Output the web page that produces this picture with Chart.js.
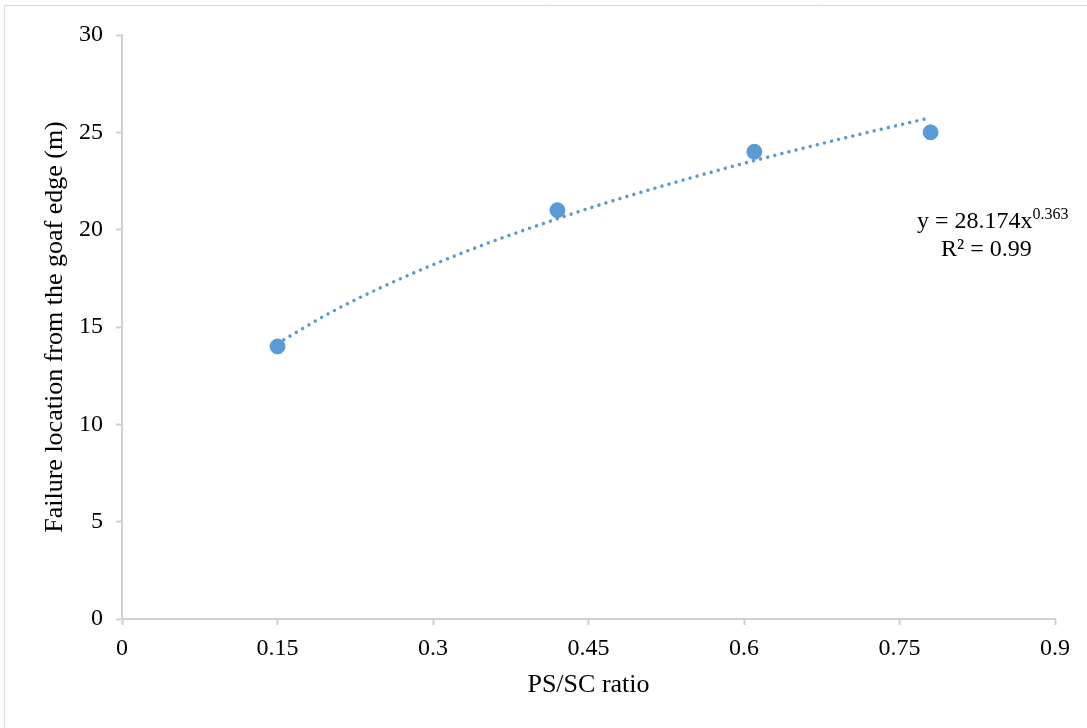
<!DOCTYPE html>
<html>
<head>
<meta charset="utf-8">
<script src="https://cdn.jsdelivr.net/npm/chart.js@4"></script>
<style>
  html, body { margin: 0; padding: 0; background: #fff; }
  #wrap { width: 1087px; height: 728px; position: relative; }
</style>
</head>
<body>
<div id="wrap"><canvas id="grafico"></canvas></div>
<script>
// measured data
const ratioX = [0.15, 0.42, 0.61, 0.78];
const failureY = [14, 21, 24, 25];

// dotted power trendline
const trendX = [0.15, 0.2, 0.25, 0.3, 0.35, 0.4, 0.45, 0.5, 0.55, 0.6, 0.65, 0.7, 0.75, 0.78];
const trendY = [14.15, 15.71, 17.03, 18.2, 19.25, 20.2, 21.09, 21.91, 22.68, 23.41, 24.09, 24.75, 25.38, 25.75];

const xTicks = [0, 0.15, 0.3, 0.45, 0.6, 0.75, 0.9];
const yTicks = [0, 5, 10, 15, 20, 25, 30];

const azul = '#5b9bd5';
const eixo = '#d0d0d0';
const fonte = '"Liberation Serif", "Times New Roman", serif';

const moldura = {
    id: 'moldura',
    beforeDraw(chart) {
        const c = chart.ctx;
        c.save();
        c.strokeStyle = '#d9d9d9';
        c.lineWidth = 1;
        c.beginPath();
        c.moveTo(4.5, 728);
        c.lineTo(4.5, 5.5);
        c.lineTo(1087, 5.5);
        c.stroke();
        c.restore();
    },
    afterDraw(chart) {
        const c = chart.ctx;
        c.save();
        c.fillStyle = '#000';
        c.textBaseline = 'alphabetic';
        c.font = '24px ' + fonte;
        const t1 = 'y = 28.174x';
        c.fillText(t1, 917, 228);
        const w1 = c.measureText(t1).width;
        c.font = '16px ' + fonte;
        c.fillText('0.363', 917 + w1, 219);
        c.font = '24px ' + fonte;
        c.fillText('R² = 0.99', 941, 256);
        c.restore();
    }
};

const ctx = document.getElementById('grafico');

const grafico = new Chart(ctx, {
    type: 'scatter',
    data: {
        datasets: [{
            label: 'Trendline',
            data: trendX.map((x, i) => ({ x: x, y: trendY[i] })),
            showLine: true,
            borderColor: azul,
            borderWidth: 3.5,
            borderDash: [0.01, 7.3],
            borderCapStyle: 'round',
            cubicInterpolationMode: 'monotone',
            pointRadius: 0,
            order: 2
        }, {
            label: 'Failure location',
            data: ratioX.map((x, i) => ({ x: x, y: failureY[i] })),
            backgroundColor: azul,
            borderColor: azul,
            pointRadius: 7.5,
            order: 1
        }]
    },
    options: {
        responsive: true,
        maintainAspectRatio: false,
        animation: false,
        layout: { padding: { left: 0, right: 32, top: 35, bottom: 0 } },
        plugins: {
            legend: { display: false },
            tooltip: { enabled: false }
        },
        scales: {
            x: {
                type: 'linear',
                min: 0,
                max: 0.9,
                afterBuildTicks: (s) => { s.ticks = xTicks.map(v => ({ value: v })); },
                afterFit: (s) => { s.height = 109; },
                grid: {
                    drawOnChartArea: false,
                    color: eixo,
                    tickLength: 6,
                    tickWidth: 2
                },
                border: { color: eixo, width: 2 },
                ticks: {
                    color: '#000',
                    padding: 9,
                    maxRotation: 0,
                    font: { family: fonte, size: 24 },
                    callback: (v) => String(v)
                },
                title: {
                    display: true,
                    text: 'PS/SC ratio',
                    color: '#000',
                    font: { family: fonte, size: 26 },
                    padding: { top: 0, bottom: 27 }
                }
            },
            y: {
                min: 0,
                max: 30,
                afterBuildTicks: (s) => { s.ticks = yTicks.map(v => ({ value: v })); },
                afterFit: (s) => { s.width = 122; },
                grid: {
                    drawOnChartArea: false,
                    color: eixo,
                    tickLength: 6,
                    tickWidth: 2
                },
                border: { color: eixo, width: 2 },
                ticks: {
                    color: '#000',
                    padding: 13,
                    font: { family: fonte, size: 24 }
                },
                title: {
                    display: true,
                    text: 'Failure location from the goaf edge (m)',
                    color: '#000',
                    font: { family: fonte, size: 26 },
                    padding: { top: 40, bottom: 0 }
                }
            }
        }
    },
    plugins: [moldura]
});
</script>
</body>
</html>
